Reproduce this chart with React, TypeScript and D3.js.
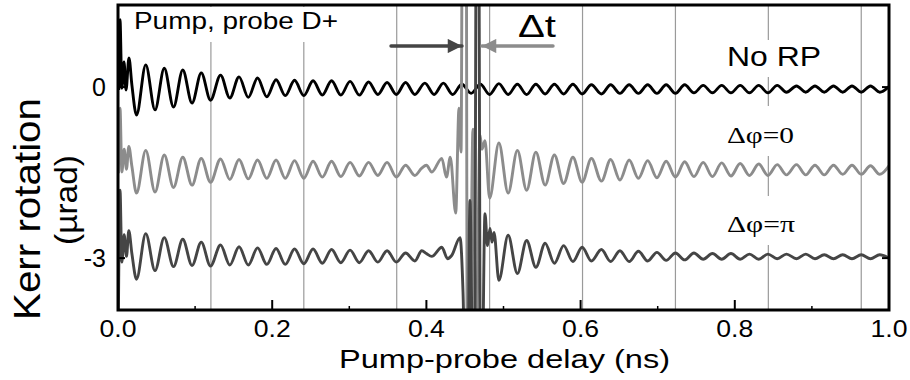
import React from 'react'
import * as d3 from 'd3'

// axis ticks and guide lines (ns / µrad)
const xTicks = [0, 0.2, 0.4, 0.6, 0.8, 1.0]
const xTickLabels = ['0.0', '0.2', '0.4', '0.6', '0.8', '1.0']
const xMinorTicks = [0.1, 0.3, 0.5, 0.7, 0.9]
const yTicks = [0, -3]
const yTickLabels = ['0', '-3']
const periodLines = [0.1205, 0.241, 0.3615, 0.482, 0.6025, 0.723, 0.8435, 0.964]

const traceNames = ['No RP', 'Δφ=0', 'Δφ=π']
const traceOffsets = [0, -1.44, -2.97]
const traceColors = ['#000000', '#8c8c8c', '#454545']

// times of the oscillation extrema (ns)
const beatT = [
  0.024, 0.036, 0.048, 0.060, 0.072, 0.084, 0.096, 0.108, 0.120, 0.133,
  0.145, 0.157, 0.169, 0.181, 0.193, 0.205, 0.217, 0.229, 0.241, 0.253,
  0.265, 0.277, 0.289, 0.301, 0.313, 0.325, 0.337, 0.349, 0.361, 0.373,
  0.385, 0.398, 0.410, 0.422, 0.434, 0.446, 0.458, 0.470, 0.482, 0.494,
  0.506, 0.518, 0.530, 0.542, 0.554, 0.566, 0.578, 0.590, 0.602, 0.614,
  0.627, 0.639, 0.651, 0.663, 0.675, 0.687, 0.699, 0.711, 0.723, 0.735,
  0.747, 0.759, 0.771, 0.783, 0.795, 0.807, 0.819, 0.831, 0.843, 0.855,
  0.867, 0.880, 0.892, 0.904, 0.916, 0.928, 0.940, 0.952, 0.964, 0.976,
  0.988, 1.000,
]

// No RP
const blackHeadT = [0.001, 0.0026, 0.005, 0.0078, 0.0104, 0.0142, 0.018]
const blackHeadV = [-0.05, 1.18, -0.02, 0.44, -0.05, 0.51, 0.04]
const blackBeat = [
  -0.49, 0.39, -0.40, 0.33, -0.35, 0.30, -0.28, 0.25, -0.23, 0.21,
  -0.19, 0.18, -0.18, 0.16, -0.17, 0.13, -0.15, 0.12, -0.15, 0.11,
  -0.14, 0.11, -0.14, 0.10, -0.14, 0.09, -0.13, 0.08, -0.13, 0.08,
  -0.13, 0.07, -0.13, 0.07, -0.13, 0.05, -0.11, 0.05, -0.13, 0.06,
  -0.13, 0.05, -0.13, 0.05, -0.12, 0.05, -0.12, 0.05, -0.12, 0.04,
  -0.12, 0.04, -0.11, 0.04, -0.11, 0.04, -0.11, 0.04, -0.11, 0.04,
  -0.10, 0.03, -0.10, 0.03, -0.10, 0.03, -0.10, 0.03, -0.10, 0.03,
  -0.09, 0.02, -0.09, 0.02, -0.09, 0.02, -0.09, 0.02, -0.09, 0.02,
  -0.09, 0.01,
]
const blackBurstT: number[] = []
const blackBurstV: number[] = []

// Δφ = 0
const grayHeadT = [0.0005, 0.0026, 0.005, 0.008, 0.011, 0.014, 0.018]
const grayHeadV = [-0.07, 1.07, -0.05, 0.35, 0.0, 0.40, 0.05]
const grayBeat = [
  -0.42, 0.33, -0.40, 0.25, -0.32, 0.21, -0.28, 0.19, -0.23, 0.18,
  -0.18, 0.17, -0.17, 0.16, -0.16, 0.16, -0.16, 0.15, -0.16, 0.14,
  -0.14, 0.14, -0.13, 0.12, -0.12, 0.12, -0.11, 0.12, -0.14, 0.07,
  -0.11, null, null, null, null, null, null, null, -0.51, 0.46,
  -0.42, 0.33, -0.37, 0.30, -0.28, 0.25, -0.25, 0.21, -0.23, 0.19,
  -0.21, 0.17, -0.19, 0.16, -0.16, 0.15, -0.15, 0.14, -0.14, 0.13,
  -0.13, 0.12, -0.13, 0.11, -0.12, 0.10, -0.11, 0.09, -0.11, 0.08,
  -0.10, 0.08, -0.10, 0.07, -0.10, 0.07, -0.09, 0.07, -0.09, 0.06,
  -0.09, 0.06,
]
const grayBurstT = [
  0.394, 0.400, 0.407, 0.420, 0.426, 0.431, 0.438, 0.4423, 0.4449, 0.4494,
  0.4540, 0.4604, 0.4643, 0.4695, 0.4721, 0.476,
]
const grayBurstV = [
  0.02, 0.07, -0.05, 0.19, -0.14, 0.21, -0.77, 1.07, 0.30, 20.0,
  -8.0, 0.70, -3.5, 0.60, 0.35, 0.50,
]

// Δφ = π
const darkHeadT = [0.0005, 0.0026, 0.005, 0.008, 0.011, 0.014, 0.018]
const darkHeadV = [-1.05, 1.16, -0.10, 0.38, 0.0, 0.45, 0.05]
const darkBeat = [
  -0.40, 0.40, -0.25, 0.33, -0.18, 0.30, -0.16, 0.25, -0.17, 0.20,
  -0.15, 0.17, -0.15, 0.15, -0.14, 0.14, -0.14, 0.13, -0.13, 0.13,
  -0.12, 0.12, -0.11, 0.11, -0.11, 0.10, -0.10, 0.10, -0.10, 0.06,
  -0.08, null, null, null, null, null, null, null, null, -0.42,
  0.37, -0.30, 0.28, -0.19, 0.23, -0.12, 0.19, -0.09, 0.16, -0.08,
  0.12, -0.09, 0.10, -0.09, 0.09, -0.08, 0.07, -0.07, 0.06, -0.06,
  0.06, -0.05, 0.05, -0.05, 0.05, -0.05, 0.04, -0.05, 0.04, -0.04,
  0.04, -0.04, 0.04, -0.04, 0.03, -0.04, 0.03, -0.04, 0.03, -0.04,
  0.03, -0.03,
]
const darkBurstT = [
  0.394, 0.400, 0.407, 0.420, 0.4275, 0.433, 0.4436, 0.4475, 0.4527, 0.4565,
  0.4617, 0.4663, 0.4708, 0.476, 0.4792, 0.4825, 0.4851, 0.4877,
]
const darkBurstV = [
  0.10, 0.05, 0.0, 0.16, -0.04, 0.02, 0.33, -0.63, -4.0, 0.98,
  -4.0, 12.0, -4.0, 0.75, 0.19, 0.49, 0.25, 0.42,
]

const W = 910
const H = 380
const plot = { left: 118, right: 889, top: 5, bottom: 310 }

const x = d3.scaleLinear().domain([0, 1]).range([plot.left, plot.right])
const y = d3.scaleLinear().domain([-3.91, 1.44]).range([plot.bottom, plot.top])

const buildTrace = (headT, headV, beatV, burstT, burstV, offset) => {
  const pts: [number, number][] = []
  headT.forEach((t, i) => pts.push([t, headV[i] + offset]))
  beatT.forEach((t, i) => {
    if (beatV[i] !== null) pts.push([t, beatV[i] + offset])
  })
  burstT.forEach((t, i) => pts.push([t, burstV[i] + offset]))
  return pts.sort((a, b) => a[0] - b[0])
}

const traces = [
  buildTrace(blackHeadT, blackHeadV, blackBeat, blackBurstT, blackBurstV, traceOffsets[0]),
  buildTrace(grayHeadT, grayHeadV, grayBeat, grayBurstT, grayBurstV, traceOffsets[1]),
  buildTrace(darkHeadT, darkHeadV, darkBeat, darkBurstT, darkBurstV, traceOffsets[2]),
]

const line = d3.line<[number, number]>()
  .x(d => x(d[0]))
  .y(d => y(d[1]))
  .curve(d3.curveMonotoneX)

const sans = 'Liberation Sans, Arial, sans-serif'
const serif = 'Liberation Serif, Times New Roman, serif'

// white boxes behind the in-plot labels
const labelBoxes = [
  { x: 128, y: 7, w: 218, h: 35 },
  { x: 718, y: 40, w: 112, h: 37 },
  { x: 718, y: 106, w: 84, h: 50 },
  { x: 718, y: 196, w: 84, h: 49 },
]

const App = () => {
  return (
    <svg width={W} height={H} style={{ position: 'absolute', left: 0, top: 0, background: '#fff' }}>
      <defs>
        <clipPath id="plotClip">
          <rect x={plot.left} y={plot.top} width={plot.right - plot.left} height={plot.bottom - plot.top} />
        </clipPath>
        <marker id="headDark" viewBox="0 0 10 10" refX="10" refY="5" markerWidth="6.5" markerHeight="4.2"
          markerUnits="strokeWidth" orient="auto">
          <path d="M0,0 L10,5 L0,10 z" fill="#454545" />
        </marker>
        <marker id="headGray" viewBox="0 0 10 10" refX="10" refY="5" markerWidth="6.5" markerHeight="4.2"
          markerUnits="strokeWidth" orient="auto">
          <path d="M0,0 L10,5 L0,10 z" fill="#8c8c8c" />
        </marker>
      </defs>

      {/* lines at multiples of five Larmor periods */}
      {periodLines.map(t => (
        <line key={t} x1={x(t)} x2={x(t)} y1={plot.top} y2={plot.bottom} stroke="#9a9a9a" strokeWidth={1.2} />
      ))}

      {labelBoxes.map((b, i) => (
        <rect key={i} x={b.x} y={b.y} width={b.w} height={b.h} fill="#fff" />
      ))}

      <g clipPath="url(#plotClip)">
        {traces.map((pts, i) => (
          <path key={traceNames[i]} d={line(pts)} fill="none" stroke={traceColors[i]} strokeWidth={2.9}
            strokeLinejoin="round" />
        ))}
      </g>

      {/* x ticks */}
      {xTicks.map(t => (
        <line key={t} x1={x(t)} x2={x(t)} y1={plot.bottom} y2={plot.bottom - 10} stroke="#000" strokeWidth={2} />
      ))}
      {xMinorTicks.map(t => (
        <line key={t} x1={x(t)} x2={x(t)} y1={plot.bottom} y2={plot.bottom - 4} stroke="#000" strokeWidth={1.5} />
      ))}
      {xTicks.map((t, i) => (
        <text key={t} x={x(t) - 18.5} y={337} fontFamily={sans} fontSize={24}
          textLength={37} lengthAdjust="spacingAndGlyphs">{xTickLabels[i]}</text>
      ))}

      {/* y ticks */}
      {yTicks.map(v => (
        <g key={v}>
          <line x1={plot.left} x2={plot.left + 7} y1={y(v)} y2={y(v)} stroke="#000" strokeWidth={2} />
          <line x1={plot.right} x2={plot.right - 7} y1={y(v)} y2={y(v)} stroke="#000" strokeWidth={2} />
        </g>
      ))}
      {yTicks.map((v, i) => (
        <text key={v} x={106} y={y(v) + 9} textAnchor="end" fontFamily={sans} fontSize={25}>
          {yTickLabels[i]}
        </text>
      ))}

      <rect x={plot.left} y={plot.top} width={plot.right - plot.left} height={plot.bottom - plot.top}
        fill="none" stroke="#000" strokeWidth={3} />

      {/* axis titles */}
      <text x={339} y={368} fontFamily={sans} fontSize={25} textLength={331} lengthAdjust="spacingAndGlyphs">
        Pump-probe delay (ns)
      </text>
      <text transform="translate(40,209) rotate(-90)" textAnchor="middle" fontFamily={sans} fontSize={36}
        textLength={222} lengthAdjust="spacingAndGlyphs">
        Kerr rotation
      </text>
      <text transform="translate(77,200) rotate(-90)" textAnchor="middle" fontFamily={sans} fontSize={32}
        textLength={90} lengthAdjust="spacingAndGlyphs">
        (µrad)
      </text>

      {/* in-plot annotations */}
      <text x={134} y={29} fontFamily={sans} fontSize={24} textLength={204} lengthAdjust="spacingAndGlyphs">
        Pump, probe D+
      </text>
      <text x={727} y={66} fontFamily={sans} fontSize={28} textLength={94} lengthAdjust="spacingAndGlyphs">
        {traceNames[0]}
      </text>
      <text x={727} y={143} fontFamily={serif} fontSize={23} textLength={67} lengthAdjust="spacingAndGlyphs">
        {traceNames[1]}
      </text>
      <text x={727} y={232} fontFamily={serif} fontSize={23} textLength={68} lengthAdjust="spacingAndGlyphs">
        {traceNames[2]}
      </text>

      <line x1={391} x2={462} y1={46} y2={46} stroke="#454545" strokeWidth={3.4} strokeLinecap="round"
        markerEnd="url(#headDark)" />
      <line x1={553} x2={482} y1={46} y2={46} stroke="#8c8c8c" strokeWidth={3.4} strokeLinecap="round"
        markerEnd="url(#headGray)" />
      <text x={518} y={37} fontFamily={sans} fontSize={32} textLength={38} lengthAdjust="spacingAndGlyphs">Δt</text>
    </svg>
  )
}

export default App
